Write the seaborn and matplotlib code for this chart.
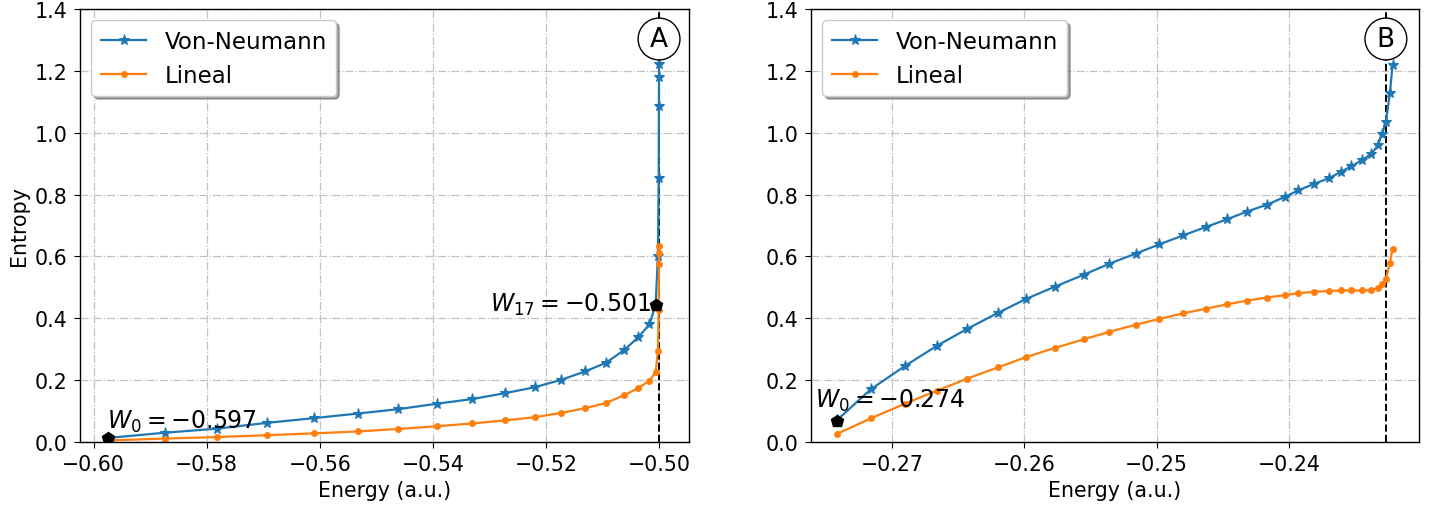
import numpy as np
import pandas as pd
import matplotlib
matplotlib.use("Agg")
import matplotlib.pyplot as plt
import seaborn as sns

# ---------------- data ----------------
energy_A = [-0.5975, -0.5874, -0.5782, -0.5693, -0.5611, -0.5533, -0.5462, -0.5392,
            -0.5330, -0.5272, -0.5220, -0.5173, -0.5131, -0.5094, -0.5062, -0.5037,
            -0.5017, -0.5006, -0.5002, -0.50006, -0.50002, -0.500008, -0.500003]
vn_A = [0.013, 0.030, 0.043, 0.062, 0.077, 0.092, 0.106, 0.124, 0.139, 0.158, 0.177,
        0.201, 0.228, 0.256, 0.297, 0.338, 0.380, 0.443, 0.603, 0.855, 1.087, 1.180, 1.221]
lin_A = [0.005, 0.011, 0.016, 0.022, 0.028, 0.034, 0.042, 0.051, 0.060, 0.070, 0.080,
         0.094, 0.109, 0.126, 0.151, 0.174, 0.198, 0.226, 0.295, 0.427, 0.574, 0.610, 0.633]

energy_B = [-0.2741, -0.2716, -0.2690, -0.2666, -0.2643, -0.2620, -0.2599, -0.2577,
            -0.2555, -0.2536, -0.2516, -0.2498, -0.2480, -0.2463, -0.2447, -0.2432,
            -0.2417, -0.2403, -0.2393, -0.2381, -0.2370, -0.2361, -0.2353, -0.2345,
            -0.2338, -0.2333, -0.2330, -0.2327, -0.2324, -0.2322]
vn_B = [0.072, 0.170, 0.246, 0.311, 0.366, 0.417, 0.462, 0.502, 0.541, 0.576, 0.609,
        0.639, 0.668, 0.695, 0.720, 0.745, 0.767, 0.793, 0.814, 0.835, 0.853, 0.873,
        0.892, 0.911, 0.932, 0.959, 0.995, 1.035, 1.127, 1.218]
lin_B = [0.027, 0.076, 0.124, 0.166, 0.205, 0.241, 0.274, 0.304, 0.332, 0.356, 0.379,
         0.398, 0.416, 0.431, 0.445, 0.457, 0.467, 0.475, 0.481, 0.486, 0.488, 0.490,
         0.490, 0.490, 0.491, 0.498, 0.510, 0.528, 0.579, 0.624]

series_names = ["Von-Neumann", "Lineal"]
xticks_A = [-0.60, -0.58, -0.56, -0.54, -0.52, -0.50]
xticks_B = [-0.27, -0.26, -0.25, -0.24]
yticks = [0.0, 0.2, 0.4, 0.6, 0.8, 1.0, 1.2, 1.4]

# marked points and labels
marks_A = [(0, r"$W_0 = -0.597$"), (17, r"$W_{17} = -0.501$")]
marks_B = [(0, r"$W_0 = -0.274$")]
asym_A = -0.500
asym_B = -0.2327
panel_labels = ["A", "B"]

# ---------------- figure ----------------
plt.rcParams["font.family"] = ["DejaVu Sans"]
fig = plt.figure(figsize=(14.4, 5.1), dpi=100)
axA = fig.add_axes([80 / 1440, 67 / 510, 609 / 1440, 433 / 510])
axB = fig.add_axes([811 / 1440, 67 / 510, 608 / 1440, 433 / 510])

blue = "#1f77b4"
orange = "#ff7f0e"


def draw(ax, E, vn, lin, xticks, fmt):
    df = pd.DataFrame({"E": E, "vn": vn, "lin": lin})
    sns.lineplot(data=df, x="E", y="vn", ax=ax, sort=False, estimator=None,
                 color=blue, marker="*", markersize=8, markeredgecolor=blue,
                 markeredgewidth=0.8, linewidth=1.6, label=series_names[0])
    sns.lineplot(data=df, x="E", y="lin", ax=ax, sort=False, estimator=None,
                 color=orange, marker="o", markersize=4.5, markeredgecolor=orange,
                 markeredgewidth=0.5, linewidth=1.6, label=series_names[1])
    ax.set_ylim(0, 1.4)
    ax.set_yticks(yticks)
    ax.set_yticklabels([f"{v:.1f}" for v in yticks])
    ax.set_xticks(xticks)
    ax.set_xticklabels([fmt.format(v).replace("-", "\u2212") for v in xticks])
    ax.grid(True, linestyle="-.", color="0.76", linewidth=0.9)
    ax.set_axisbelow(True)
    ax.tick_params(labelsize=14.8, length=4.5, pad=4.5)
    ax.set_xlabel("Energy (a.u.)", fontsize=14.8, labelpad=4)
    ax.set_ylabel("")
    ax.legend(loc="upper left", fontsize=16.5, shadow=True, fancybox=True,
              borderaxespad=0.5, handlelength=2.0)
    for sp in ax.spines.values():
        sp.set_linewidth(1.0)


draw(axA, energy_A, vn_A, lin_A, xticks_A, "{:.2f}")
draw(axB, energy_B, vn_B, lin_B, xticks_B, "{:.2f}")
axA.set_ylabel("Entropy", fontsize=14.8, labelpad=4)
axA.set_xlim(-0.6024, -0.4947)
axB.set_xlim(-0.2761, -0.2302)

# asymptote lines
axA.axvline(asym_A, color="black", linestyle="--", linewidth=1.4, zorder=1.5)
axB.axvline(asym_B, color="black", linestyle="--", linewidth=1.4, zorder=1.5)

# special points
for i, _ in marks_A:
    axA.plot(energy_A[i], vn_A[i], marker="p", color="black", markersize=9, zorder=5)
for i, _ in marks_B:
    axB.plot(energy_B[i], 0.068, marker="p", color="black", markersize=9, zorder=5)

axA.text(-0.5977, 0.045, marks_A[0][1], fontsize=17, ha="left", va="baseline", zorder=6)
axA.text(-0.5013, 0.424, marks_A[1][1], fontsize=17, ha="right", va="baseline", zorder=6)
axB.text(-0.2758, 0.113, marks_B[0][1], fontsize=17, ha="left", va="baseline", zorder=6)

# circled panel labels
for ax, x, lab in [(axA, asym_A, panel_labels[0]), (axB, asym_B, panel_labels[1])]:
    ax.text(x, 1.303, lab, fontsize=19, ha="center", va="center", zorder=7,
            bbox=dict(boxstyle="circle,pad=0.3", facecolor="white",
                      edgecolor="black", linewidth=1.0))

fig.savefig("out.png", dpi=100)
